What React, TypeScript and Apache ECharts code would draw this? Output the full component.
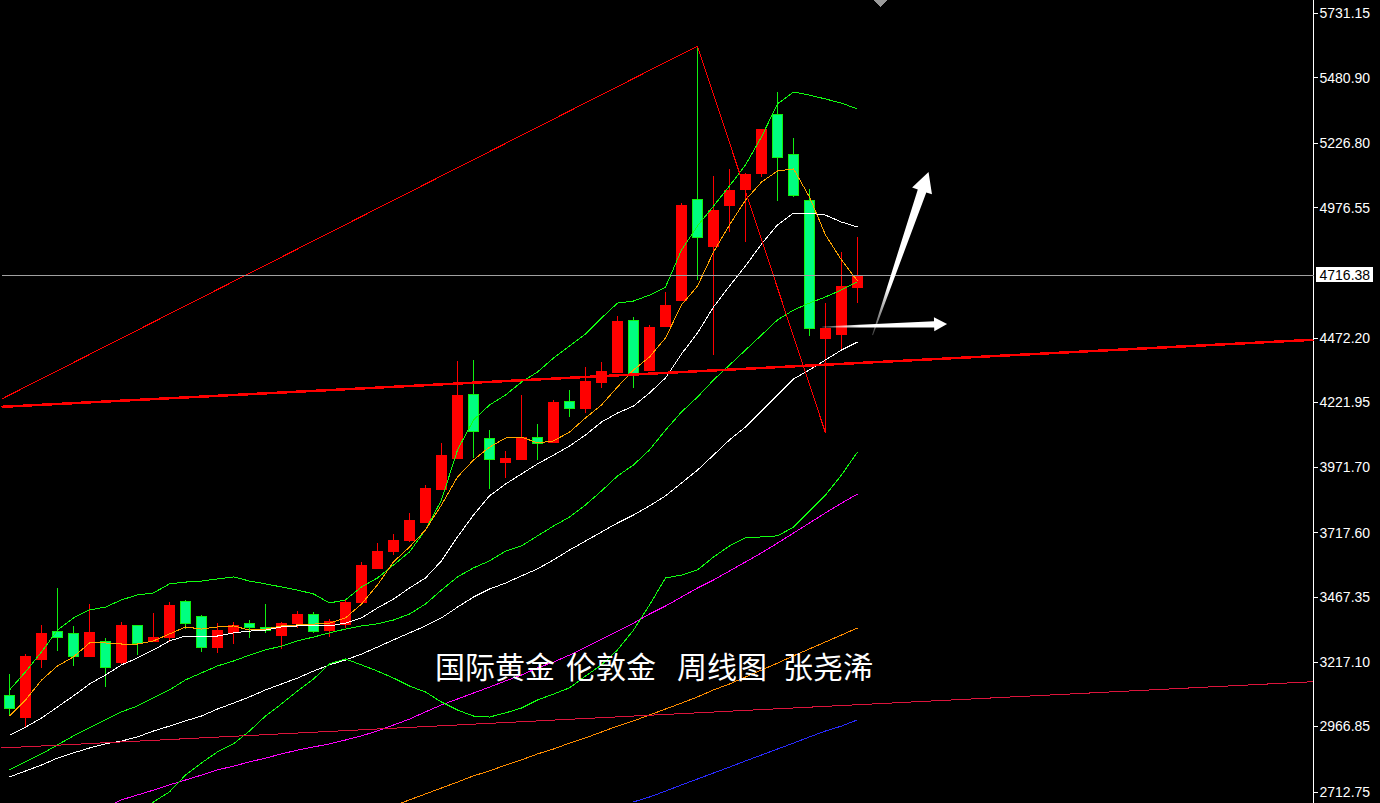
import React, { useEffect, useRef } from 'react';
import * as echarts from 'echarts';

// Weekly London gold candles (open / close / low / high)
const opens = [3088, 3003, 3228, 3336.4, 3328.6, 3239.5, 3297.6, 3216, 3359.6, 3297.6,
  3313, 3452.6, 3394.5, 3274.4, 3332.5, 3367.4, 3352, 3321, 3367.4, 3402,
  3340, 3363.5, 3448.8, 3580.5, 3646.4, 3689, 3758.8, 3886.6, 4006.8, 4254.8,
  4084.3, 3991, 4003, 4088, 4068.8, 4227.6, 4200.5, 4301, 4340, 4541.5,
  4347.7, 4518, 4619, 5010, 4828.3, 4987, 5049, 5111, 5339.8, 5184.8,
  5006.5, 4471.8, 4487, 4669];
const closes = [3038, 3239.5, 3328.6, 3313, 3239.5, 3332.5, 3197, 3359.6, 3290, 3313,
  3437, 3367.4, 3274.4, 3340.3, 3359.6, 3352, 3340, 3367.4, 3402, 3336.4,
  3375, 3449, 3592, 3646.4, 3689, 3766.5, 3890.5, 4018.4, 4250.9, 4111.4,
  4003, 4006.8, 4088, 4065, 4223.8, 4200.5, 4305, 4344, 4537.6, 4328.4,
  4514.4, 4599.6, 4987, 4863, 4968, 5045, 5107, 5281.6, 5173, 5026,
  4510.5, 4510.5, 4673.3, 4716.38];
const lows = [3011, 2960.5, 3193, 3259, 3201, 3235.6, 3119.5, 3208.5, 3243.4, 3294,
  3294, 3344, 3255, 3251, 3286, 3309, 3328.6, 3266.6, 3348, 3328.6,
  3313, 3348, 3437, 3580.5, 3631, 3681, 3755, 3883, 4003, 4006.8,
  3886.6, 3929, 3999, 3999, 4065, 4166, 4181, 4278, 4336, 4278,
  4344, 4514.4, 4619, 4696.5, 4406, 4882.5, 4844, 5096, 5000.7, 5018,
  4479.5, 4103.6, 4425, 4607];
const highs = [3170, 3247, 3359.6, 3503, 3355.8, 3441, 3309, 3371, 3360, 3406,
  3448.8, 3456.5, 3398.4, 3367.4, 3371, 3379, 3441, 3371, 3414, 3410,
  3383, 3460.5, 3604, 3677.4, 3712, 3793.6, 3902, 4065, 4382.6, 4386.5,
  4115, 4034, 4250.9, 4138.5, 4231.5, 4270, 4359.4, 4378.8, 4557, 4553,
  4522, 4650, 4995, 5603, 5099.5, 5126.6, 5111, 5282, 5425, 5247,
  5049, 4607.4, 4805, 4863];

// Indicator lines
const ma5 = [3007, 3069, 3146, 3201, 3236, 3290, 3290, 3286, 3286, 3298,
  3325, 3352, 3344, 3352, 3356, 3340, 3344, 3356, 3360, 3363,
  3367, 3387, 3441, 3515, 3604, 3662, 3728, 3825, 3933, 3999,
  4049, 4084, 4088, 4065, 4073, 4107, 4162, 4212, 4282, 4348,
  4398, 4472, 4600, 4673, 4805, 4910, 5006, 5076, 5119, 5127,
  5018, 4871, 4774, 4693];
const ma10 = [2933, 2964, 2999, 3042, 3085, 3131, 3166, 3205, 3232, 3263,
  3298, 3317, 3317, 3317, 3329, 3336, 3340, 3352, 3356, 3356,
  3356, 3367, 3387, 3426, 3460, 3503, 3542, 3608, 3701, 3786,
  3860, 3906, 3945, 3984, 4018, 4053, 4096, 4146, 4181, 4208,
  4259, 4317, 4410, 4491, 4592, 4673, 4751, 4836, 4910, 4956,
  4956, 4948, 4921, 4902];
const ma30 = [2771, 2794, 2817, 2844, 2864, 2883, 2899, 2910, 2926, 2949,
  2968, 2988, 3007, 3034, 3057, 3081, 3108, 3131, 3154, 3181,
  3205, 3224, 3247, 3274, 3302, 3329, 3356, 3387, 3429, 3468,
  3499, 3522, 3550, 3577, 3612, 3650, 3685, 3720, 3755, 3786,
  3821, 3860, 3910, 3960, 4018, 4077, 4127, 4189, 4251, 4313,
  4348, 4387, 4425, 4456];
const bollUpper = [3108, 3178, 3255, 3340, 3387, 3418, 3429, 3457, 3476, 3484,
  3519, 3526, 3530, 3538, 3546, 3530, 3519, 3507, 3495, 3480,
  3445, 3457, 3507, 3542, 3592, 3643, 3728, 3844, 4038, 4154,
  4212, 4251, 4301, 4340, 4394, 4441, 4487, 4549, 4607, 4615,
  4638, 4669, 4813, 4906, 4983, 5061, 5142, 5251, 5379, 5425,
  5413, 5398, 5382, 5359];
const bollMid = [2798, 2829, 2860, 2895, 2930, 2961, 2992, 3023, 3046, 3077,
  3108, 3147, 3174, 3201, 3220, 3243, 3263, 3278, 3298, 3313,
  3329, 3344, 3356, 3364, 3379, 3402, 3441, 3495, 3546, 3581,
  3608, 3646, 3666, 3705, 3743, 3778, 3825, 3879, 3937, 3980,
  4038, 4115, 4185, 4243, 4309, 4367, 4425, 4483, 4542, 4580,
  4607, 4631, 4658, 4689];
const bollLower = [null, null, null, null, null, null, null, null, 2623, 2674,
  2713, 2778, 2825, 2868, 2899, 2949, 3007, 3054, 3104, 3150,
  3209, 3228, 3205, 3181, 3154, 3123, 3100, 3061, 3030, 3007,
  3003, 3019, 3038, 3069, 3092, 3116, 3162, 3205, 3263, 3340,
  3437, 3542, 3553, 3573, 3623, 3666, 3697, 3701, 3705, 3739,
  3801, 3863, 3941, 4030];
const ma60 = [null, null, null, null, null, null, 2651, 2682, 2701, 2720,
  2740, 2759, 2778, 2798, 2813, 2829, 2844, 2860, 2875, 2887,
  2899, 2914, 2930, 2949, 2972, 2995, 3023, 3050, 3073, 3096,
  3119, 3143, 3166, 3193, 3216, 3243, 3274, 3305, 3336, 3367,
  3402, 3433, 3468, 3503, 3534, 3569, 3604, 3639, 3677, 3716,
  3755, 3794, 3832, 3867];
const ma120 = [null, null, null, null, null, null, null, null, null, null,
  null, null, null, null, null, null, null, null, null, null,
  null, null, null, null, 2658, 2682, 2705, 2728, 2751, 2775,
  2794, 2817, 2837, 2860, 2879, 2902, 2922, 2945, 2968, 2988,
  3011, 3034, 3057, 3081, 3108, 3131, 3158, 3185, 3212, 3240,
  3267, 3294, 3321, 3348];
const ma200 = [null, null, null, null, null, null, null, null, null, null,
  null, null, null, null, null, null, null, null, null, null,
  null, null, null, null, null, null, null, null, null, null,
  null, null, null, null, null, null, null, null, null, 2674,
  2693, 2716, 2740, 2763, 2786, 2809, 2833, 2856, 2879, 2902,
  2926, 2949, 2968, 2992];

// Drawn lines (slot position, price)
const zigzagSlots = [-0.5, 43, 51];
const zigzagPrices = [4235, 5603, 4103.6];
const supportSlots = [-0.5, 81.5];
const supportPrices = [4205, 4465];
const baseSlots = [-0.5, 81.5];
const basePrices = [2883, 3140];

// Forecast arrows (tail, tip) in slot / price
const upArrowSlots = [53.94, 57.44];
const upArrowPrices = [4483, 5115];
const sideArrowSlots = [50.8, 58.6];
const sideArrowPrices = [4514, 4526];

// Price scale labels
const yTicks = [2712.75, 2966.85, 3217.10, 3467.35, 3717.60, 3971.70, 4221.95, 4472.20,
  4976.55, 5226.80, 5480.90, 5731.15];
const Y_MIN = 2669.9;
const Y_MAX = 5781.5;

const SLOT_COUNT = 82;
const weekSlots = Array.from({ length: SLOT_COUNT }, (_, i) => `W${i + 1}`);

const titleParts = [
  { text: '国际黄金', x: 435 },
  { text: '伦敦金', x: 566 },
  { text: '周线图', x: 677 },
  { text: '张尧浠', x: 783 },
];

const AXIS_FONT = '"Liberation Sans", Arial, sans-serif';
const BAND_GREEN = '#10ff10';
const UP_FILL = '#ff0000';
const UP_EDGE = '#ff0000';
const DOWN_FILL = '#00ff80';
const DOWN_EDGE = '#10f010';
const BODY_W = 10;

function arrowPoints(t: number[], p: number[], headLen: number, headHalf: number, neckHalf: number, tailHalf: number) {
  const dx = p[0] - t[0];
  const dy = p[1] - t[1];
  const len = Math.hypot(dx, dy);
  const ux = dx / len;
  const uy = dy / len;
  const nx = -uy;
  const ny = ux;
  const bx = p[0] - ux * headLen;
  const by = p[1] - uy * headLen;
  return [
    [t[0] + nx * tailHalf, t[1] + ny * tailHalf],
    [bx + nx * neckHalf, by + ny * neckHalf],
    [bx + nx * headHalf, by + ny * headHalf],
    [p[0], p[1]],
    [bx - nx * headHalf, by - ny * headHalf],
    [bx - nx * neckHalf, by - ny * neckHalf],
    [t[0] - nx * tailHalf, t[1] - ny * tailHalf],
  ];
}

function lineSeries(name: string, data: any[], color: string, width = 1) {
  return {
    type: 'line',
    name,
    data,
    xAxisIndex: 0,
    yAxisIndex: 0,
    symbol: 'none',
    showSymbol: false,
    silent: true,
    connectNulls: false,
    lineStyle: { color, width },
    itemStyle: { color },
    z: 3,
  };
}

function drawnLine(name: string, slots: number[], prices: number[], color: string, width = 1) {
  return {
    type: 'line',
    name,
    data: slots.map((s, i) => [s, prices[i]]),
    xAxisIndex: 1,
    yAxisIndex: 0,
    symbol: 'none',
    showSymbol: false,
    silent: true,
    lineStyle: { color, width },
    itemStyle: { color },
    z: 4,
  };
}

// Candle: solid 1px wick plus outlined body, bullish red / bearish green
function renderCandle(_params: any, api: any) {
  const idx = api.value(0);
  const o = api.value(1);
  const c = api.value(2);
  const l = api.value(3);
  const h = api.value(4);
  const pO = api.coord([idx, o]);
  const pC = api.coord([idx, c]);
  const pL = api.coord([idx, l]);
  const pH = api.coord([idx, h]);
  const up = c >= o;
  const px = Math.floor(pO[0]);
  const top = Math.round(Math.min(pO[1], pC[1]));
  const bottom = Math.round(Math.max(pO[1], pC[1]));
  const wickTop = Math.round(pH[1]);
  const wickBottom = Math.round(pL[1]);
  const edge = up ? UP_EDGE : DOWN_EDGE;
  return {
    type: 'group',
    children: [
      {
        type: 'rect',
        shape: { x: px, y: wickTop, width: 1, height: Math.max(1, wickBottom - wickTop) },
        style: { fill: edge, stroke: null },
      },
      {
        type: 'rect',
        shape: { x: px - BODY_W / 2 + 0.5, y: top + 0.5, width: BODY_W, height: Math.max(1, bottom - top) },
        style: { fill: up ? UP_FILL : DOWN_FILL, stroke: edge, lineWidth: 1 },
      },
    ],
  };
}

export default function App() {
  const ref = useRef<HTMLDivElement>(null);

  useEffect(() => {
    document.body.style.margin = '0';
    document.body.style.background = '#000';
    if (!ref.current) return;
    const chart = echarts.init(ref.current, null, { renderer: 'svg' });

    const candles = opens.map((o, i) => [i, o, closes[i], lows[i], highs[i]]);
    const lastClose = closes[closes.length - 1];

    chart.setOption({
      backgroundColor: '#000000',
      animation: false,
      grid: { left: 1.5, right: 66.5, top: 0, bottom: 0, containLabel: false },
      xAxis: [
        { type: 'category', data: weekSlots, boundaryGap: true, show: false },
        { type: 'value', min: -0.5, max: SLOT_COUNT - 0.5, show: false },
      ],
      yAxis: {
        type: 'value',
        position: 'right',
        min: Y_MIN,
        max: Y_MAX,
        axisLine: { show: true, onZero: false, lineStyle: { color: '#ffffff', width: 1 } },
        axisTick: { show: true, length: 4, inside: false, lineStyle: { color: '#ffffff' }, customValues: yTicks },
        axisLabel: {
          show: true,
          color: '#ffffff',
          fontSize: 14,
          fontFamily: AXIS_FONT,
          margin: 6,
          customValues: yTicks,
          formatter: (v: number) => v.toFixed(2),
        },
        splitLine: { show: false },
      },
      series: [
        {
          type: 'custom',
          name: 'XAUUSD W1',
          data: candles,
          xAxisIndex: 0,
          yAxisIndex: 0,
          encode: { x: 0, y: [1, 2, 3, 4] },
          renderItem: renderCandle,
          silent: true,
          clip: false,
          z: 2,
        },
        lineSeries('MA200', ma200, '#2a2aff'),
        lineSeries('MA120', ma120, '#ff8c00'),
        lineSeries('MA60', ma60, '#ff00ff'),
        lineSeries('MA30', ma30, '#ffffff'),
        lineSeries('BOLL LOWER', bollLower, BAND_GREEN),
        lineSeries('BOLL MID', bollMid, BAND_GREEN),
        lineSeries('BOLL UPPER', bollUpper, BAND_GREEN),
        lineSeries('MA10', ma10, '#ffffff'),
        lineSeries('MA5', ma5, '#ffa500'),
        drawnLine('base', baseSlots, basePrices, '#dc143c'),
        {
          ...drawnLine('support', supportSlots, supportPrices, '#ff0000', 2.5),
          markLine: {
            silent: true,
            symbol: ['none', 'none'],
            animation: false,
            lineStyle: { color: '#a0a0a0', width: 1, type: 'solid' },
            label: {
              show: true,
              position: 'end',
              distance: 2,
              formatter: () => lastClose.toFixed(2),
              color: '#000000',
              backgroundColor: '#ffffff',
              padding: [1, 3, 0, 4],
              fontSize: 14,
              lineHeight: 14,
              fontFamily: AXIS_FONT,
            },
            data: [{ yAxis: lastClose }],
          },
        },
        drawnLine('zigzag', zigzagSlots, zigzagPrices, '#ff0000'),
      ],
    });

    const toPx = (slot: number, price: number) =>
      chart.convertToPixel({ xAxisIndex: 1, yAxisIndex: 0 } as any, [slot, price]) as number[];

    const upTail = toPx(upArrowSlots[0], upArrowPrices[0]);
    const upTip = toPx(upArrowSlots[1], upArrowPrices[1]);
    const sideTail = toPx(sideArrowSlots[0], sideArrowPrices[0]);
    const sideTip = toPx(sideArrowSlots[1], sideArrowPrices[1]);

    const fade = (x: number, y: number, x2: number, y2: number) =>
      new echarts.graphic.LinearGradient(x, y, x2, y2, [
        { offset: 0, color: 'rgba(255,255,255,0.25)' },
        { offset: 0.3, color: '#ffffff' },
        { offset: 1, color: '#ffffff' },
      ]);

    chart.setOption({
      graphic: [
        {
          type: 'polygon',
          silent: true,
          z: 100,
          shape: { points: arrowPoints(upTail, upTip, 20, 10.5, 4.5, 0.5) },
          style: { fill: fade(0, 1, 0, 0) },
        },
        {
          type: 'polygon',
          silent: true,
          z: 100,
          shape: { points: arrowPoints(sideTail, sideTip, 13, 7, 3.2, 0.5) },
          style: { fill: fade(0, 0, 1, 0) },
        },
        {
          type: 'polygon',
          silent: true,
          z: 100,
          shape: { points: [[874, 0], [887, 0], [880.5, 7]] },
          style: { fill: '#9a9a9a' },
        },
        ...titleParts.map((t) => ({
          type: 'text',
          silent: true,
          z: 100,
          x: t.x,
          y: 665,
          style: {
            text: t.text,
            fill: '#ffffff',
            fontSize: 30,
            fontFamily: '"Noto Sans CJK SC", sans-serif',
            verticalAlign: 'middle',
            align: 'left',
          },
        })),
      ],
    });

    return () => {
      chart.dispose();
    };
  }, []);

  return (
    <>
      <style>{`.mt-chart svg path:not([fill^="url"]) { shape-rendering: crispEdges; }`}</style>
      <div className="mt-chart" ref={ref} style={{ width: 1380, height: 803, background: '#000' }} />
    </>
  );
}
